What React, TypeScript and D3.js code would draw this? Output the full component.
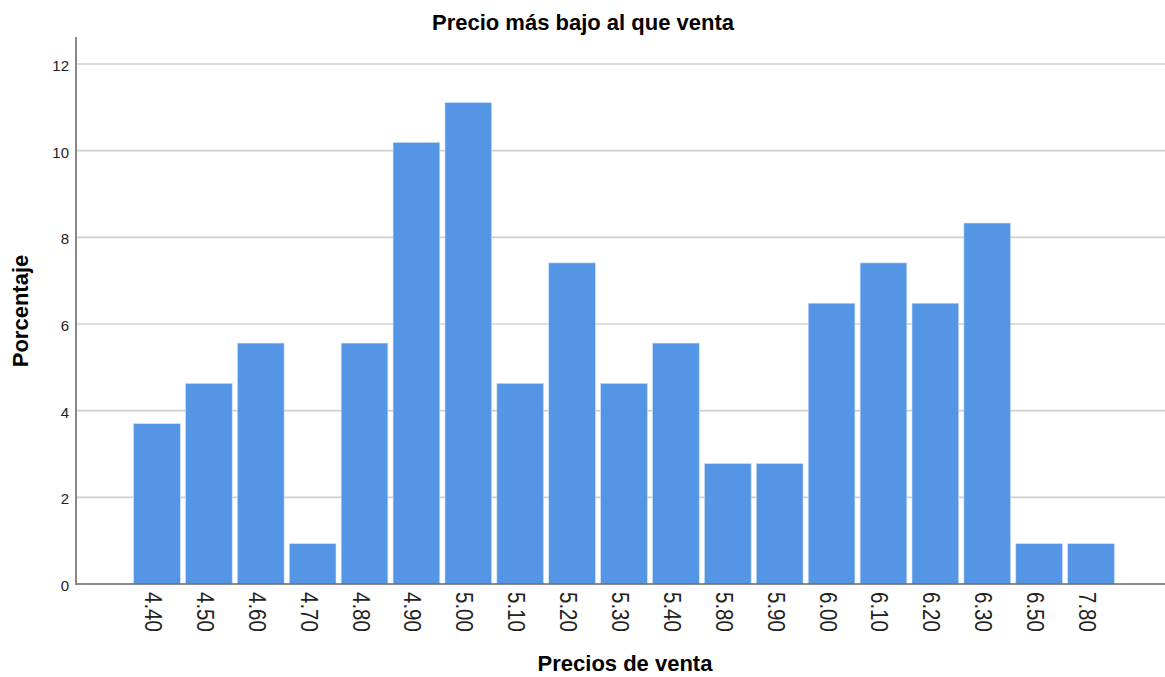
import React from "react";
import * as d3 from "d3";

const categories = ["4.40","4.50","4.60","4.70","4.80","4.90","5.00","5.10","5.20","5.30","5.40","5.80","5.90","6.00","6.10","6.20","6.30","6.50","7.80"];
const percentages = [3.70,4.63,5.56,0.93,5.56,10.19,11.11,4.63,7.41,4.63,5.56,2.78,2.78,6.48,7.41,6.48,8.33,0.93,0.93];
const yTicks = [0,2,4,6,8,10,12];

const W = 1165, H = 677;
const FONT = "'Liberation Sans', Arial, sans-serif";

export default function App() {
  const x = d3.scaleBand<string>().domain(categories).range([131, 1117]).paddingInner(0.1).paddingOuter(0.05);
  const y = d3.scaleLinear().domain([0, 12]).range([584, 64]);
  const top = 37;
  return (
    <svg width={W} height={H} style={{ position: "absolute", left: 0, top: 0, background: "#fff" }} fontFamily={FONT}>
      <text x={583} y={30} textAnchor="middle" fontSize={22} fontWeight="bold" fill="#000">Precio más bajo al que venta</text>
      {yTicks.filter(t => t > 0).map(t => (
        <line key={t} x1={77} x2={W} y1={y(t)} y2={y(t)} stroke="#cfcfcf" strokeWidth={1.6} />
      ))}
      {yTicks.map(t => (
        <text key={"l" + t} x={69} y={y(t) + 7} textAnchor="end" fontSize={15} fill="#222">{t}</text>
      ))}
      {categories.map((c, i) => (
        <rect key={c} x={x(c)!} y={y(percentages[i])} width={x.bandwidth()} height={y(0) - y(percentages[i])} fill="#5495e5" stroke="#cfe0f7" strokeWidth={0.6} />
      ))}
      <line x1={77} x2={W} y1={y(0)} y2={y(0)} stroke="#666" strokeWidth={1.6} />
      <line x1={76} x2={76} y1={top} y2={y(0) + 1} stroke="#888" strokeWidth={2} />
      {categories.map(c => {
        const cx = x(c)! + x.bandwidth() / 2;
        return (
          <text key={"x" + c} transform={`translate(${cx - 12},${592}) rotate(90) scale(1,1.15)`} fontSize={20.5} fill="#222">{c}</text>
        );
      })}
      <text x={625} y={671} textAnchor="middle" fontSize={22} fontWeight="bold" fill="#000">Precios de venta</text>
      <text transform={`translate(28,311) rotate(-90)`} textAnchor="middle" fontSize={22} fontWeight="bold" fill="#000">Porcentaje</text>
    </svg>
  );
}
